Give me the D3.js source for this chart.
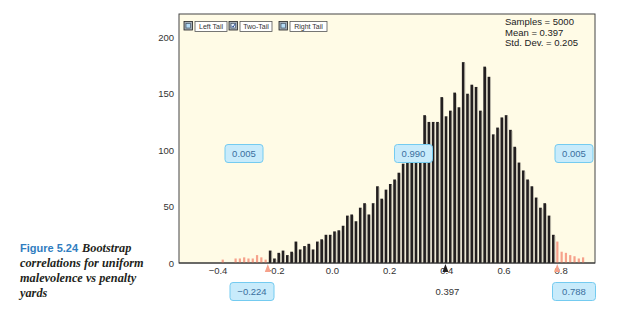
<!DOCTYPE html>
<html>
<head>
<meta charset="utf-8">
<script src="https://cdn.jsdelivr.net/npm/d3@7"></script>
<style>
  body { margin: 0; background: #fff; }
  svg { display: block; font-family: "Liberation Sans", Arial, sans-serif; }
</style>
</head>
<body>
<div id="chart"></div>
<script>
// histogram of 5000 bootstrap correlations
const binStart = -0.381;   // centre of first bin
const binWidth = 0.015;
const counts = [3,0,0,4,4,5,4,4,7,5,3,
  11,4,9,11,7,10,19,12,15,17,
  12,19,21,25,25,28,29,33,42,43,
  37,49,53,43,53,68,57,65,70,74,
  80,88,92,96,100,104,131,125,125,125,
  147,130,135,151,138,178,150,158,156,135,
  174,165,114,120,129,131,118,103,89,82,
  74,68,58,49,53,42,25,19,10,9,
  7,6,4,5];

const xTicks = [-0.4, -0.2, 0.0, 0.2, 0.4, 0.6, 0.8];
const yTicks = [0, 50, 100, 150, 200];
const statLines = ["Samples = 5000", "Mean = 0.397", "Std. Dev. = 0.205"];
const legendItems = ["Left Tail", "Two-Tail", "Right Tail"];
const lowerCut = -0.224, upperCut = 0.788, mean = 0.397;
const tailProps = ["0.005", "0.990", "0.005"];
const captionLines = ["correlations for uniform", "malevolence vs penalty", "yards"];

const W = 622, H = 314;
const plot = { left: 179, right: 595, top: 14, bottom: 263 };

const svg = d3.select("#chart").append("svg")
  .attr("width", W).attr("height", H);

const x = d3.scaleLinear().domain([-0.4, 0.8]).range([217.5, 560.7]);
const y = d3.scaleLinear().domain([0, 200]).range([plot.bottom, 37.3]);

// plot background
svg.append("rect")
  .attr("x", plot.left).attr("y", plot.top)
  .attr("width", plot.right - plot.left).attr("height", plot.bottom - plot.top)
  .attr("fill", "#fffbe6").attr("stroke", "#444").attr("stroke-width", 1);

// bars
const bins = counts.map((c, i) => ({ v: binStart + i * binWidth, c: c }));
const isTail = d => d.v < lowerCut || d.v > upperCut;

svg.append("g").selectAll("rect")
  .data(bins.filter(d => d.c > 0))
  .join("rect")
  .attr("x", d => x(d.v) - 1.3)
  .attr("y", d => y(d.c))
  .attr("width", d => isTail(d) ? 2.2 : 2.7)
  .attr("height", d => y(0) - y(d.c))
  .attr("fill", d => isTail(d) ? "#f6a18b" : "#231f20");

// light edge on the right side of each dark bar
svg.append("g").selectAll("rect")
  .data(bins.filter(d => d.c > 0 && !isTail(d)))
  .join("rect")
  .attr("x", d => x(d.v) + 1.4)
  .attr("y", d => y(d.c) + 1)
  .attr("width", 0.7)
  .attr("height", d => y(0) - y(d.c) - 1)
  .attr("fill", "#b9b6a8");

// axes
const xAxis = svg.append("g")
  .attr("transform", `translate(0,${plot.bottom})`)
  .call(d3.axisBottom(x).tickValues(xTicks).tickSize(0).tickPadding(4).tickFormat(d3.format(".1f")));
xAxis.select(".domain").attr("d", `M${plot.left},0H${plot.right}`).attr("stroke", "#333");
xAxis.selectAll("text").attr("font-size", 9.5).attr("fill", "#333").attr("font-family", "Liberation Sans, Arial, sans-serif");

const yAxis = svg.append("g")
  .attr("transform", `translate(${plot.left},0)`)
  .call(d3.axisLeft(y).tickValues(yTicks).tickSize(0).tickPadding(5));
yAxis.select(".domain").remove();
yAxis.selectAll("text").attr("font-size", 9.5).attr("fill", "#333").attr("font-family", "Liberation Sans, Arial, sans-serif");

// markers on the axis
const markers = [
  { v: lowerCut, color: "#f6a18b" },
  { v: mean, color: "#231f20" },
  { v: upperCut, color: "#f6a18b" }
];
svg.append("g").selectAll("path")
  .data(markers)
  .join("path")
  .attr("d", d => `M${x(d.v)},${plot.bottom + 1}L${x(d.v) - 3},${plot.bottom + 9}L${x(d.v) + 3},${plot.bottom + 9}Z`)
  .attr("fill", d => d.color);

// legend checkboxes
const legendX = [184, 229, 279];
const legendW = [32, 32, 37];
const lg = svg.append("g");
legendItems.forEach((t, i) => {
  const gx = legendX[i];
  lg.append("rect").attr("x", gx).attr("y", 21.5).attr("width", 8.5).attr("height", 8.5)
    .attr("fill", "#a3adb6").attr("stroke", "#222").attr("stroke-width", 0.8);
  lg.append("rect").attr("x", gx + 2).attr("y", 23.5).attr("width", 4.5).attr("height", 4.5)
    .attr("fill", i === 1 ? "#e4f0fd" : "#b6dcf6").attr("stroke", "#345").attr("stroke-width", 0.6);
  if (i === 1) {
    lg.append("path").attr("d", `M${gx + 2.6},${25.8}L${gx + 4},${27.3}L${gx + 6.2},${23.8}`)
      .attr("fill", "none").attr("stroke", "#1b3f8a").attr("stroke-width", 0.9);
  }
  lg.append("rect").attr("x", gx + 11).attr("y", 21.5).attr("width", legendW[i]).attr("height", 10)
    .attr("fill", "#fff").attr("stroke", "#555").attr("stroke-width", 0.8);
  lg.append("text").attr("x", gx + 11 + legendW[i] / 2).attr("y", 29.3)
    .attr("text-anchor", "middle").attr("font-size", 7).attr("fill", "#333").text(t);
});

// summary stats
svg.append("g").selectAll("text")
  .data(statLines)
  .join("text")
  .attr("x", 505)
  .attr("y", (d, i) => 25 + i * 10.5)
  .attr("font-size", 9.5)
  .attr("fill", "#222")
  .text(d => d);

// value boxes
function valueBox(cx, cy, w, label) {
  const g = svg.append("g");
  g.append("rect").attr("x", cx - w / 2).attr("y", cy - 9).attr("width", w).attr("height", 18)
    .attr("rx", 3).attr("fill", "#c8ebfb").attr("stroke", "#74cbf0").attr("stroke-width", 1);
  g.append("text").attr("x", cx).attr("y", cy + 3.3).attr("text-anchor", "middle")
    .attr("font-size", 9.5).attr("fill", "#3b6f9e").text(label);
}
valueBox(244, 153.5, 38, tailProps[0]);
valueBox(413.5, 153.5, 38, tailProps[1]);
valueBox(574, 153.5, 38, tailProps[2]);
valueBox(252, 291.5, 44, d3.format(".3f")(lowerCut).replace("-", "\u2212"));
valueBox(574, 291.5, 43, d3.format(".3f")(upperCut));
svg.append("text").attr("x", x(mean) + 2).attr("y", 295).attr("text-anchor", "middle")
  .attr("font-size", 9.5).attr("fill", "#333").text(d3.format(".3f")(mean));

// caption
const cap = svg.append("g");
const first = cap.append("text").attr("x", 20).attr("y", 252);
first.append("tspan").attr("font-family", "Liberation Sans, Arial, sans-serif")
  .attr("font-weight", "bold").attr("font-size", 11).attr("fill", "#2f7dc0").text("Figure 5.24");
first.append("tspan").attr("font-family", "Liberation Serif, Times New Roman, serif")
  .attr("font-weight", "bold").attr("font-style", "italic").attr("font-size", 12.3)
  .attr("fill", "#231f20").attr("dx", 4).text("Bootstrap");
cap.selectAll("text.l")
  .data(captionLines)
  .join("text")
  .attr("class", "l")
  .attr("x", 20)
  .attr("y", (d, i) => 267 + i * 15)
  .attr("font-family", "Liberation Serif, Times New Roman, serif")
  .attr("font-weight", "bold").attr("font-style", "italic").attr("font-size", 12.3)
  .attr("fill", "#231f20")
  .text(d => d);
</script>
</body>
</html>
